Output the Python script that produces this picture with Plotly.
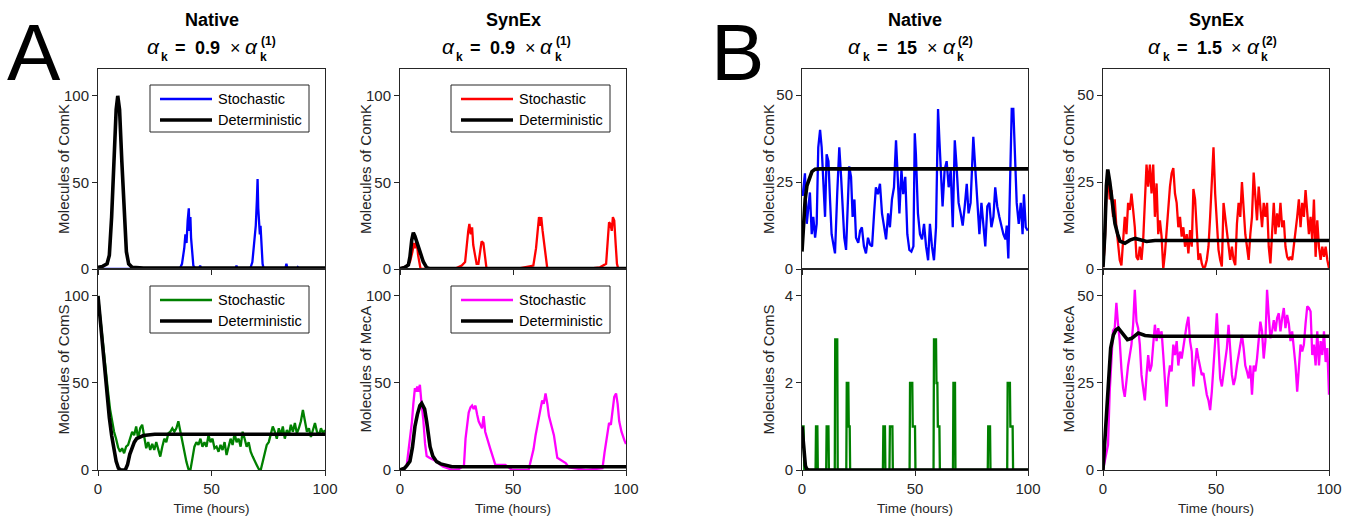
import numpy as np
import plotly.graph_objects as go

# ======================= DATA =======================
time_ticks = [0, 50, 100]

# ---- Panel A, Native : ComK ----
aN_k_det_t = [0, 2, 4, 5, 6, 7, 8, 8.7, 9.5, 10.5, 11.5, 12.5, 13.5, 15, 20, 100]
aN_k_det_v = [1, 1.5, 3, 8, 30, 65, 92, 100, 92, 62, 30, 10, 3, 1, 0.5, 0.5]
aN_k_sto_t = [0, 36, 37, 38, 38.5, 39, 39.5, 40, 40.3, 40.7, 41, 41.5, 42, 43, 44.5, 45, 45.5,
              60.5, 61, 61.5, 67, 68, 68.5, 69, 69.5, 70, 70.3, 70.6, 71, 71.3, 71.6, 72, 72.5,
              73, 82.5, 83, 83.5, 87.5, 88, 88.5, 100]
aN_k_sto_v = [0, 0, 3, 12, 20, 15, 28, 35, 22, 30, 18, 8, 2, 0, 0, 2, 0,
              0, 2, 0, 0, 4, 10, 18, 25, 40, 52, 35, 28, 20, 25, 10, 3,
              0, 0, 3, 0, 0, 1, 0, 0]

# ---- Panel A, Native : ComS ----
aN_s_det_t = [0, 1, 2, 3, 4, 5, 6, 7, 8, 9, 10, 12, 13, 14, 15, 16, 17, 20, 25, 100]
aN_s_det_v = [100, 85, 70, 55, 42, 30, 20, 12, 5, 1, 0, 0, 3, 9, 13, 16, 18, 19.8, 20.5, 20.5]
aN_s_sto_v = [100, 89, 74, 64, 55, 45, 35, 28, 22, 18,
              13, 10.5, 12.5, 9.6, 13.4, 14.4, 18, 22, 20, 25,
              18, 24, 26, 18, 12.5, 16, 11.5, 15, 11.5, 16,
              12.5, 7.7, 13.4, 18, 16, 21, 22, 24, 22, 24,
              28, 22, 16, 10.5, 4.8, 0.6, 0, 6.7, 13.4, 16,
              14.4, 18, 13.4, 16, 13.4, 20, 16, 18, 12.5, 13.4,
              10.5, 14.4, 11.5, 16, 8.6, 13.4, 18, 14.4, 21, 16,
              18, 13.4, 22, 18, 13.4, 16, 10.5, 7.7, 5.7, 2.9,
              0.6, 0, 4.8, 10.5, 14.4, 16, 20, 25, 22, 18,
              24, 20, 25, 18, 23, 20, 26, 22, 27, 21,
              24, 28, 34.5, 29, 22, 24, 19, 23, 27, 22,
              20, 24, 21, 23]
aN_s_sto_t = np.linspace(0, 100, len(aN_s_sto_v))

# ---- Panel A, SynEx : ComK ----
aS_k_det_t = [0, 2, 3.7, 4.4, 5.2, 5.9, 6.6, 7.4, 8.8, 10.3, 11.8, 13, 100]
aS_k_det_v = [0.3, 0.8, 2.3, 7, 16.7, 21, 19, 15.7, 10, 4.2, 0.8, 0.3, 0.2]
aS_k_sto_t = [0, 0.7, 2.9, 4.4, 5.5, 6.2, 6.8, 7.4, 8.0, 8.6, 9.1,
              25, 27.3, 28.8, 29.5, 30.2, 30.7, 31.3, 31.9, 32.4, 33.2, 33.9, 34.7, 35.4, 36.1,
              36.9, 37.6, 38.3,
              51.6, 56, 59, 60.2, 60.9, 61.5, 62.1, 62.5, 63.1, 63.7, 64.5, 65.2,
              82.6, 88.5, 91.2, 91.9, 92.5, 93.1, 93.7, 94.2, 94.8, 95.4, 96, 96.6, 100]
aS_k_sto_v = [0, 0.5, 1.5, 4, 10, 15, 12, 16, 8, 2, 0,
              0.5, 2, 4, 15, 22, 26, 20, 24, 14, 8, 3, 3, 10, 16,
              15, 8, 0,
              0, 1, 2, 12, 24, 30, 25, 30, 22, 15, 5, 0,
              0, 1, 3, 20, 27, 26, 22, 30, 28, 15, 3, 0, 0]

# ---- Panel A, SynEx : MecA ----
aS_m_det_t = [0, 2, 3, 4.4, 5.5, 6.6, 7.7, 8.8, 9.6, 10.9, 11.8, 12.5, 13.3, 14.5, 16.2, 18, 20.6, 23, 100]
aS_m_det_v = [0, 1, 2.5, 5, 13, 25, 32, 37, 38.3, 35, 27.8, 20, 13.4, 8, 4.8, 3.5, 2.9, 1.9, 1.9]
aS_m_sto_t = [0, 2, 3, 4.4, 5.3, 5.9, 6.6, 7.1, 7.6, 8.1, 8.8, 9.4, 10.3, 11.1, 11.8, 13, 14.5, 16,
              18.9, 23.3, 26, 28.3, 29, 30.4, 31.2, 31.9, 32.6, 33.4, 34.1, 34.8, 35.5, 36.3, 37,
              37.7, 40, 42.2, 46.6, 49.6, 56.9, 59.1, 60, 61.4, 62.2, 62.9, 63.6, 64.4, 65.2, 65.9,
              68.1, 69.6, 73.3, 74.8, 82.2, 89.6, 90.5, 91.8, 92.5, 93.3, 94.1, 94.8, 95.6, 96.3,
              97, 98, 99.3, 100]
aS_m_sto_v = [0, 1, 3, 18, 28, 38, 47, 45, 48, 45, 49, 40, 29, 15, 8, 7, 6, 5,
              2, 0, 0.5, 2.5, 18, 33, 36, 37, 35, 37, 32, 28, 26, 24, 31,
              22, 12, 3, 3, 0, 0, 12, 20, 29, 36, 40, 38, 44, 38, 31,
              20, 7, 4, 1.5, 0, 1, 10, 22, 27, 26, 35, 42, 44, 38,
              28, 22, 17, 15]

# ---- Panel B, Native : ComK ----
bN_k_det_t = [0, 0.7, 1.4, 2.2, 2.9, 3.6, 4.4, 5.8, 8, 100]
bN_k_det_v = [5, 12, 20, 24, 25.5, 27, 28, 28.7, 28.8, 28.8]
bN_k_sto_t = [0.3, 1.3, 2.1, 2.8, 3.5, 4.3, 5.0, 5.8, 6.5, 7.2,
              8.0, 8.7, 9.4, 10.2, 10.9, 11.7, 12.4, 13.1, 13.9, 14.6,
              15.6, 16.5, 17.3, 18.0, 18.7, 19.5, 20.2, 20.9, 21.7, 22.4,
              23.2, 23.9, 24.9, 25.7, 26.5, 27.4, 28.3, 29.2, 30.1, 31.0,
              31.9, 32.7, 33.6, 34.5, 35.4, 36.3, 37.2, 38.1, 38.9, 39.8,
              40.7, 41.6, 42.2, 43.1, 44.0, 44.8, 45.7, 46.6, 47.5, 48.4,
              49.3, 49.9, 50.4, 51.3, 52.2, 53.1, 54.0, 54.9, 55.8, 56.6,
              57.5, 58.4, 59.3, 60.2, 60.8, 61.4, 62.2, 63.1, 64.0, 64.9,
              65.8, 66.7, 67.6, 68.4, 69.3, 70.2, 71.1, 72.0, 72.9, 73.7,
              74.6, 75.8, 76.7, 77.6, 78.5, 79.4, 80.2, 81.1, 82.0, 82.9,
              83.8, 84.7, 85.5, 86.4, 87.3, 88.2, 89.1, 90.0, 90.6, 91.3,
              92.0, 92.8, 93.5, 94.2, 95.0, 95.9, 96.8, 97.6, 98.2, 99.0,
              99.9]
bN_k_sto_v = [21, 27.5, 13, 18, 22, 10, 15, 9, 13, 35,
              40, 35, 26.5, 15, 33, 31, 20, 10, 7, 4.5,
              22, 35, 26.5, 17, 9, 5.5, 16, 29.5, 26.5, 15,
              20, 9, 7.5, 11, 12, 6.5, 4.5, 9, 7, 6.5,
              16, 23.5, 21.5, 24.5, 16, 12, 8.5, 16, 12, 20,
              23.5, 37, 28.5, 16, 28.5, 21.5, 26.5, 10, 5.5, 5,
              6.5, 39, 33, 16, 10, 8.5, 13, 6.5, 2.5, 13,
              6.5, 2.5, 12, 46, 37, 26.5, 18, 28.5, 31, 23.5,
              28.5, 12, 37, 29.5, 19, 16, 12.5, 18, 24.5, 16,
              19, 38, 27.5, 18, 10, 19, 12, 6.5, 18, 19,
              12, 15, 23.5, 18, 15, 12, 10, 8.5, 12.5, 3,
              21.5, 46, 46, 34, 19, 13, 19, 10, 21.5, 12,
              11]

# ---- Panel B, Native : ComS ----
bN_s_det_t = [0, 0.5, 1, 1.5, 2, 3, 100]
bN_s_det_v = [1, 0.6, 0.3, 0.1, 0.03, 0, 0]
bN_s_sto_t = [0, 0.7, 1.0, 6.0, 6.2, 6.8, 7.0, 10.7, 10.9, 11.7, 11.9, 14.5, 14.7, 15.6, 15.8,
              19.6, 19.8, 20.5, 20.7, 21.1, 21.3, 35.8, 36, 36.7, 36.9, 38.7, 38.9, 40, 40.2,
              47.6, 47.8, 48.8, 49, 50, 50.2, 58.2, 58.4, 59.3, 59.5, 59.9, 60.1, 60.8, 61,
              66.8, 67, 67.7, 67.9, 82.2, 82.4, 83.2, 83.4, 90.8, 91, 92, 92.2, 93.2, 93.4, 100]
bN_s_sto_v = [1, 1, 0, 0, 1, 1, 0, 0, 1, 1, 0, 0, 3, 3, 0,
              0, 2, 2, 1, 1, 0, 0, 1, 1, 0, 0, 1, 1, 0,
              0, 2, 2, 1, 1, 0, 0, 3, 3, 2, 2, 1, 1, 0,
              0, 2, 2, 0, 0, 1, 1, 0, 0, 2, 2, 1, 1, 0, 0]

# ---- Panel B, SynEx : ComK ----
bS_k_det_t = [0, 0.8, 1.5, 2.1, 3.0, 3.8, 5.3, 6.5, 7.5, 9.7, 11.9, 14.2, 16.4, 19.3, 23, 100]
bS_k_det_v = [0.5, 10, 24, 28.6, 25, 20, 13, 10, 8, 7.4, 8.3, 8.8, 8.3, 7.9, 8.2, 8.2]
bS_k_sto_v = [0.5, 6.4, 21.7, 27.5, 20, 22.7, 15, 20, 12, 8,
              2.6, 1, 10, 15, 10, 19, 17, 21.7, 17, 12,
              3.5, 2.6, 6.4, 2.6, 8.3, 18, 30, 23.7, 30, 21.7,
              30, 15, 24.6, 10, 14, 9.3, 0, 4.5, 11.2, 18,
              23.7, 27.5, 29, 21.7, 19, 12, 15, 9.3, 12, 6.4,
              10, 4.5, 11.2, 6.4, 23, 20, 10, 2.6, 4.5, 1.6,
              0.2, 0.7, 2.6, 6.4, 15, 23.7, 35, 21.7, 15, 5.5,
              2.6, 0.7, 19, 15, 10, 6.4, 2.6, 6.4, 2.6, 1.1,
              13, 19, 15, 25, 18, 10, 6.4, 2.6, 10, 15,
              27.7, 20, 14, 23.7, 18, 12, 19, 15, 19, 6.4,
              1.6, 12, 19, 10, 16, 12, 19, 12, 14, 6.4,
              3.5, 2.6, 3.5, 2.6, 6.4, 10, 15, 20, 12, 19,
              15, 22.7, 15, 10, 15, 8.3, 20, 3.5, 14, 6.4,
              2.6, 6.4, 3.5, 6.4, 2.6, 0.2]
bS_k_sto_t = np.linspace(0, 100, len(bS_k_sto_v))

# ---- Panel B, SynEx : MecA ----
bS_m_det_t = [0, 1.6, 2.4, 3.4, 4.6, 5.7, 6.8, 8.7, 10.8, 12.7, 15.6, 18.6, 22.3, 100]
bS_m_det_v = [0, 15.8, 27, 35, 38.8, 40.2, 40.7, 39.3, 37.4, 37.8, 39.3, 38.6, 38.4, 38.4]
bS_m_sto_v = [0, 2.4, 5.3, 7.2, 22.5, 32, 40, 40.7, 48, 41.7,
              37, 29, 23.5, 21, 26.3, 30, 33, 36, 41.7, 51.7,
              42.6, 40.7, 36, 27.3, 23.5, 20, 27.3, 33, 28.3, 30,
              36, 41.7, 37, 40.7, 37.8, 39.8, 33, 25.4, 18.2, 26.3,
              30, 28.3, 36, 33, 37, 30, 34, 32, 35.4, 38.8,
              41.7, 44, 37, 34, 24, 30, 35, 32, 29, 27.3,
              27.8, 24.4, 21.6, 20, 17.2, 22.5, 29, 37, 45, 36,
              26.3, 24, 27.3, 31, 35, 41.7, 34, 27.3, 24.4, 26.3,
              30, 33, 37, 38.8, 35, 30, 28.3, 26.3, 30, 21.6,
              30, 28.3, 32, 37, 42.6, 39.8, 32, 37, 51.7, 44.5,
              37.8, 39.8, 43, 39.8, 43.6, 45, 39.8, 43.6, 46.5, 40.7,
              44.5, 42, 37, 39.8, 35, 30, 22.5, 31, 36, 34,
              36, 42, 47, 46.5, 45.5, 33, 36, 30, 39.8, 30,
              37, 33, 39.8, 31, 35, 21.6]
bS_m_sto_t = np.linspace(0, 100, len(bS_m_sto_v))

# title texts
panel_titles = ["Native", "SynEx", "Native", "SynEx"]
alpha_factors = ["0.9", "0.9", "15", "1.5"]
alpha_orders = ["(1)", "(1)", "(2)", "(2)"]

# ======================= LAYOUT CONSTANTS =======================
W, H = 1356, 517
FONT = "Liberation Sans, Arial, Helvetica, sans-serif"
AX = "#262626"
col_px = [(98, 325), (400, 626), (802, 1028), (1103, 1329)]
row_px = [(69, 269), (269, 470)]
yranges = {1: [0, 115.5], 2: [0, 115.5], 3: [0, 57.5], 4: [0, 57.5],
           5: [0, 115.5], 6: [0, 115.5], 7: [0, 4.62], 8: [0, 57.7]}
yticks = {1: [0, 50, 100], 2: [0, 50, 100], 3: [0, 25, 50], 4: [0, 25, 50],
          5: [0, 50, 100], 6: [0, 50, 100], 7: [0, 2, 4], 8: [0, 25, 50]}
ylabels = {1: "Molecules of ComK", 2: "Molecules of ComK", 3: "Molecules of ComK", 4: "Molecules of ComK",
           5: "Molecules of ComS", 6: "Molecules of MecA", 7: "Molecules of ComS", 8: "Molecules of MecA"}
ylabel_x = [63, 365, 768, 1068]

STO_W, DET_W = 2.3, 3.6
BLUE, RED, GREEN, MAG = "#0000FF", "#FF0000", "#008000", "#FF00FF"

fig = go.Figure()


def add(t, v, idx, color, width, name):
    suffix = "" if idx == 1 else str(idx)
    fig.add_trace(go.Scatter(
        x=t, y=v, mode="lines", name=name,
        line=dict(color=color, width=width),
        xaxis="x" + suffix, yaxis="y" + suffix,
        showlegend=False, hoverinfo="skip"))


# axis index: 1..4 top row (cols), 5..8 bottom row
add(aN_k_sto_t, aN_k_sto_v, 1, BLUE, STO_W, "Stochastic")
add(aN_k_det_t, aN_k_det_v, 1, "black", DET_W, "Deterministic")
add(aN_s_sto_t, aN_s_sto_v, 5, GREEN, STO_W, "Stochastic")
add(aN_s_det_t, aN_s_det_v, 5, "black", DET_W, "Deterministic")
add(aS_k_sto_t, aS_k_sto_v, 2, RED, STO_W, "Stochastic")
add(aS_k_det_t, aS_k_det_v, 2, "black", DET_W, "Deterministic")
add(aS_m_sto_t, aS_m_sto_v, 6, MAG, STO_W, "Stochastic")
add(aS_m_det_t, aS_m_det_v, 6, "black", DET_W, "Deterministic")
add(bN_k_sto_t, bN_k_sto_v, 3, BLUE, STO_W, "Stochastic")
add(bN_k_det_t, bN_k_det_v, 3, "black", DET_W, "Deterministic")
add(bN_s_sto_t, bN_s_sto_v, 7, GREEN, STO_W, "Stochastic")
add(bN_s_det_t, bN_s_det_v, 7, "black", DET_W, "Deterministic")
add(bS_k_sto_t, bS_k_sto_v, 4, RED, STO_W, "Stochastic")
add(bS_k_det_t, bS_k_det_v, 4, "black", DET_W, "Deterministic")
add(bS_m_sto_t, bS_m_sto_v, 8, MAG, STO_W, "Stochastic")
add(bS_m_det_t, bS_m_det_v, 8, "black", DET_W, "Deterministic")

layout = dict(width=W, height=H, margin=dict(l=0, r=0, t=0, b=0, pad=0, autoexpand=False),
              autosize=False, paper_bgcolor="white", plot_bgcolor="white", showlegend=False,
              font=dict(family=FONT, color=AX, size=15))

for idx in range(1, 9):
    col = (idx - 1) % 4
    row = (idx - 1) // 4
    x0, x1 = col_px[col]
    y0, y1 = row_px[row]
    sfx = "" if idx == 1 else str(idx)
    common = dict(showline=True, linecolor=AX, linewidth=1, mirror=True, automargin=False,
                  showgrid=False, zeroline=False, ticks="outside", ticklen=5,
                  tickcolor=AX, tickwidth=1, tickfont=dict(size=15, color=AX, family=FONT))
    xa = dict(common, domain=[x0 / W, x1 / W], range=[0, 100], tickvals=time_ticks,
              anchor="y" + sfx, showticklabels=(row == 1))
    if row == 1:
        xa["title"] = dict(text="Time (hours)", font=dict(size=13.5, color=AX, family=FONT), standoff=7)
    ya = dict(common, domain=[1 - y1 / H, 1 - y0 / H], range=yranges[idx], tickvals=yticks[idx],
              anchor="x" + sfx)
    layout["xaxis" + sfx] = xa
    layout["yaxis" + sfx] = ya
    # mirrored inside ticks on the right-hand edge
    layout["yaxis" + str(idx + 8)] = dict(overlaying="y" + sfx, side="right", anchor="x" + sfx,
                                          range=yranges[idx], tickvals=yticks[idx], ticks="inside",
                                          ticklen=5, tickcolor=AX, showticklabels=False, automargin=False,
                                          showline=False, showgrid=False, zeroline=False)

annotations = []
shapes = []


def txt(text, xp, yp, size, color="black", xanchor="center", angle=0):
    annotations.append(dict(text=text, x=xp / W, y=1 - yp / H, xref="paper", yref="paper",
                            showarrow=False, xanchor=xanchor, yanchor="middle", textangle=angle,
                            font=dict(size=size, color=color, family=FONT)))


# y axis labels
for idx in range(1, 9):
    col = (idx - 1) % 4
    row = (idx - 1) // 4
    y0, y1 = row_px[row]
    txt(ylabels[idx], ylabel_x[col], (y0 + y1) / 2, 15, AX, angle=-90)

# legends (panel A), drawn as boxed keys
legend_boxes = [((150, 309, 85, 132), BLUE), ((150, 309, 286, 333), GREEN),
                ((451, 610, 85, 132), RED), ((451, 610, 286, 333), MAG)]
for (L, R, T, B), col in legend_boxes:
    shapes.append(dict(type="rect", xref="paper", yref="paper", x0=L / W, x1=R / W,
                       y0=1 - B / H, y1=1 - T / H, line=dict(color=AX, width=1),
                       fillcolor="white", layer="above"))
    for dy, c, wdt, lab in [(14, col, STO_W, "Stochastic"), (35, "black", DET_W, "Deterministic")]:
        shapes.append(dict(type="line", xref="paper", yref="paper", x0=(L + 10) / W, x1=(L + 62) / W,
                           y0=1 - (T + dy) / H, y1=1 - (T + dy) / H,
                           line=dict(color=c, width=wdt), layer="above"))
        txt(lab, L + 66, T + dy, 14.5, "black", xanchor="left")

# titles: bold name, then the equation alpha_k = f x alpha_k^(n) built from pieces
eq_left = [146.7, 441.7, 848.3, 1148.3]
# x offsets (px from eq_left) of: alpha, k, '=', factor, 'x', alpha, k, superscript
eq_offsets = [[6.6, 18, 34.1, 60.8, 88.3, 105, 116.6, 121.5],
              [6.6, 18, 34.1, 60.8, 88.3, 105, 116.6, 121.5],
              [6.6, 18, 34.1, 59.0, 84.5, 101, 112.6, 117.5],
              [6.6, 18, 34.1, 60.8, 88.3, 105, 116.6, 121.5]]
for col in range(4):
    cxp = (col_px[col][0] + col_px[col][1]) / 2
    txt("<b>%s</b>" % panel_titles[col], cxp, 20, 18)
    L0 = eq_left[col]
    o = eq_offsets[col]
    txt("<i>α</i>", L0 + o[0], 46.5, 21)
    txt("<b>k</b>", L0 + o[1], 57.5, 12)
    txt("<b>=</b>", L0 + o[2], 47.5, 18)
    txt("<b>%s</b>" % alpha_factors[col], L0 + o[3], 47.5, 18)
    txt("×", L0 + o[4], 47.5, 18)
    txt("<i>α</i>", L0 + o[5], 46.5, 21)
    txt("<b>k</b>", L0 + o[6], 57.5, 12)
    txt("<b>%s</b>" % alpha_orders[col], L0 + o[7], 40.5, 12)

# panel letters
txt("A", 34, 52, 80)
txt("B", 737, 52, 80)

layout["annotations"] = annotations
layout["shapes"] = shapes
fig.update_layout(**layout)
fig.write_html("out.html", post_script="document.body.style.margin='0px';")
